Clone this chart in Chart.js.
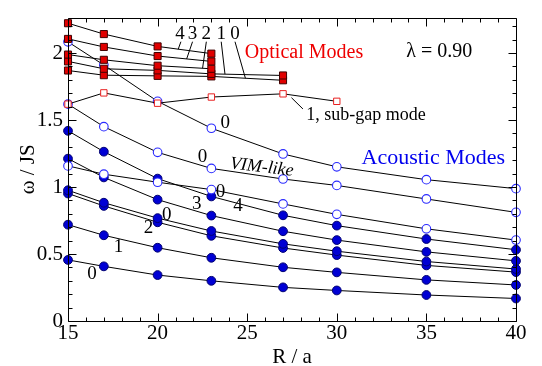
<!DOCTYPE html>
<html>
<head>
<meta charset="utf-8">
<script src="https://cdn.jsdelivr.net/npm/chart.js@4.4.1/dist/chart.umd.min.js"></script>
<style>
    html, body { margin: 0; padding: 0; background: #fff; }
    #wrap { width: 542px; height: 366px; }
</style>
</head>
<body>
<div id="wrap"><canvas id="modesChart"></canvas></div>
<script>
// R / a sample points shared by every curve
const rValues = [15, 17, 20, 23, 27, 30, 35, 40];

// optical modes (filled red squares), numbered 4..0
const optical4 = [2.223, 2.142, 2.050, 1.996];
const optical3 = [2.106, 2.046, 1.978, 1.938];
const optical2 = [1.989, 1.950, 1.906, 1.883];
const optical1 = [1.938, 1.883, 1.871, 1.845, 1.833];
const optical0 = [1.870, 1.835, 1.830, 1.826, 1.797];

// sub-gap mode (open red squares)
const subGap1 = [1.619, 1.703, 1.626, 1.672, 1.696, 1.640];

// acoustic modes, open blue circles
const acousticOpenA = [2.084, 1.911, 1.640, 1.439, 1.247, 1.151, 1.055, 0.988];
const acousticOpenB = [1.619, 1.451, 1.259, 1.139, 1.060, 1.012, 0.911, 0.811];
const acousticOpenC = [1.158, 1.096, 1.036, 0.981, 0.874, 0.796, 0.688, 0.604];

// acoustic modes, filled blue circles
const acousticFilled1 = [1.420, 1.264, 1.063, 0.930, 0.789, 0.712, 0.612, 0.532];
const acousticFilled2 = [1.212, 1.072, 0.906, 0.787, 0.670, 0.604, 0.516, 0.449];
const acousticFilled3 = [0.976, 0.883, 0.768, 0.672, 0.576, 0.521, 0.444, 0.388];
const acousticFilled4 = [0.952, 0.859, 0.737, 0.636, 0.545, 0.492, 0.415, 0.365];
const acousticFilled5 = [0.719, 0.640, 0.547, 0.472, 0.401, 0.363, 0.307, 0.269];
const acousticFilled6 = [0.456, 0.408, 0.343, 0.300, 0.251, 0.228, 0.194, 0.168];

// axis ticks
const xTickValues = [15, 20, 25, 30, 35, 40];
const yTickValues = [0, 0.5, 1, 1.5, 2];

const SERIF = '"Liberation Serif", "DejaVu Serif", serif';

// text labels placed in data coordinates (R, omega)
const curveLabels = [
    { text: '4', r: 21.25, w: 2.142 },
    { text: '3', r: 21.95, w: 2.142 },
    { text: '2', r: 22.72, w: 2.142 },
    { text: '1', r: 23.55, w: 2.142 },
    { text: '0', r: 24.32, w: 2.142 },
    { text: '0', r: 23.77, w: 1.475 },
    { text: '0', r: 22.51, w: 1.223 },
    { text: '0', r: 23.51, w: 0.960 },
    { text: '3', r: 22.18, w: 0.870 },
    { text: '4', r: 24.49, w: 0.856 },
    { text: '0', r: 20.51, w: 0.791 },
    { text: '2', r: 19.49, w: 0.696 },
    { text: '1', r: 17.82, w: 0.552 },
    { text: '0', r: 16.34, w: 0.348 }
];

// leader lines from the labels to their curves: [r1, w1, r2, w2]
const leaderLines = [
    [21.30, 2.085, 21.15, 2.029],
    [21.95, 2.085, 21.62, 1.956],
    [22.72, 2.085, 22.51, 1.887],
    [23.55, 2.085, 23.76, 1.843],
    [24.32, 2.085, 24.90, 1.812],
    [27.47, 1.667, 28.11, 1.583]
];

const toPoints = (values) => values.map((v, i) => ({ x: rValues[i], y: v }));

const makeSeries = (values, style) => Object.assign({
    data: toPoints(values),
    borderColor: '#000',
    borderWidth: 1,
    showLine: true,
    tension: 0,
    clip: false
}, style);

const redFilled = {
    pointStyle: 'rect', pointRadius: 5,
    pointBackgroundColor: '#e00000', pointBorderColor: '#400000', pointBorderWidth: 1
};
const redOpen = {
    pointStyle: 'rect', pointRadius: 4.5,
    pointBackgroundColor: '#fff', pointBorderColor: '#e82020', pointBorderWidth: 1
};
const blueOpen = {
    pointStyle: 'circle', pointRadius: 4.3,
    pointBackgroundColor: '#fff', pointBorderColor: '#2a2aff', pointBorderWidth: 1.1
};
const blueFilled = {
    pointStyle: 'circle', pointRadius: 4.4,
    pointBackgroundColor: '#0000d4', pointBorderColor: '#000070', pointBorderWidth: 1
};

// frame with inward ticks on all four sides
const frameTicks = {
    id: 'frameTicks',
    afterDraw(chart) {
        const { ctx, chartArea: a, scales: { x, y } } = chart;
        const L = Math.round(a.left) + 0.5, R = Math.round(a.right) + 0.5;
        const T = Math.round(a.top) + 0.5, B = Math.round(a.bottom) + 0.5;
        ctx.save();
        ctx.strokeStyle = '#000';
        ctx.lineWidth = 1;
        ctx.beginPath();
        ctx.rect(L, T, R - L, B - T);
        for (let r = 15; r <= 40; r++) {
            const px = Math.round(x.getPixelForValue(r)) + 0.5;
            const len = r % 5 === 0 ? 8 : 4;
            ctx.moveTo(px, B); ctx.lineTo(px, B - len);
            ctx.moveTo(px, T); ctx.lineTo(px, T + len);
        }
        for (let i = 0; i <= 22; i++) {
            const py = Math.round(y.getPixelForValue(i / 10)) + 0.5;
            const len = i % 5 === 0 ? 8 : 4;
            ctx.moveTo(L, py); ctx.lineTo(L + len, py);
            ctx.moveTo(R, py); ctx.lineTo(R - len, py);
        }
        ctx.stroke();
        ctx.restore();
    }
};

// curve labels, leader lines and the text notes
const notes = {
    id: 'notes',
    afterDatasetsDraw(chart) {
        const { ctx, scales: { x, y } } = chart;
        const px = (r) => x.getPixelForValue(r);
        const py = (w) => y.getPixelForValue(w);
        ctx.save();
        ctx.strokeStyle = '#000';
        ctx.lineWidth = 1;
        ctx.beginPath();
        leaderLines.forEach(([r1, w1, r2, w2]) => {
            ctx.moveTo(px(r1), py(w1));
            ctx.lineTo(px(r2), py(w2));
        });
        ctx.stroke();

        ctx.fillStyle = '#000';
        ctx.textAlign = 'center';
        ctx.textBaseline = 'middle';
        ctx.font = '19px ' + SERIF;
        curveLabels.forEach(l => ctx.fillText(l.text, px(l.r), py(l.w)));

        ctx.textAlign = 'left';
        ctx.fillStyle = '#ee0000';
        ctx.font = '20px ' + SERIF;
        ctx.fillText('Optical Modes', px(24.87), py(2.0));

        ctx.fillStyle = '#000';
        ctx.fillText('\u03bb = 0.90', px(33.88), py(2.012));

        ctx.fillStyle = '#0000ee';
        ctx.font = '22px ' + SERIF;
        ctx.fillText('Acoustic Modes', px(31.38), py(1.214));

        ctx.fillStyle = '#000';
        ctx.font = '18px ' + SERIF;
        ctx.fillText('1, sub-gap mode', px(28.3), py(1.535));

        ctx.save();
        ctx.translate(px(24.04), py(1.175));
        ctx.rotate(0.12);
        ctx.font = 'italic 18px ' + SERIF;
        ctx.fillText('VIM-like', 0, 0);
        ctx.restore();

        ctx.restore();
    }
};

function initModesChart() {
    const canvas = document.getElementById('modesChart');

    new Chart(canvas, {
        type: 'line',
        data: {
            datasets: [
                makeSeries(optical4, redFilled),
                makeSeries(optical3, redFilled),
                makeSeries(optical2, redFilled),
                makeSeries(optical1, redFilled),
                makeSeries(optical0, redFilled),
                makeSeries(subGap1, redOpen),
                makeSeries(acousticOpenA, blueOpen),
                makeSeries(acousticOpenB, blueOpen),
                makeSeries(acousticOpenC, blueOpen),
                makeSeries(acousticFilled1, blueFilled),
                makeSeries(acousticFilled2, blueFilled),
                makeSeries(acousticFilled3, blueFilled),
                makeSeries(acousticFilled4, blueFilled),
                makeSeries(acousticFilled5, blueFilled),
                makeSeries(acousticFilled6, blueFilled)
            ]
        },
        options: {
            responsive: true,
            maintainAspectRatio: false,
            animation: false,
            layout: { padding: { top: 6, right: 26, left: 0, bottom: 0 } },
            plugins: {
                legend: { display: false },
                tooltip: { enabled: false }
            },
            scales: {
                x: {
                    type: 'linear',
                    min: 15,
                    max: 40,
                    afterFit: (scale) => { scale.height = 45; },
                    afterBuildTicks: (scale) => { scale.ticks = xTickValues.map(v => ({ value: v })); },
                    grid: { display: false, drawTicks: false },
                    border: { display: false },
                    ticks: {
                        color: '#000',
                        padding: 0,
                        maxRotation: 0,
                        font: { family: SERIF, size: 21 }
                    },
                    title: {
                        display: true,
                        text: 'R / a',
                        color: '#000',
                        font: { family: SERIF, size: 21, lineHeight: 1 },
                        padding: { top: 0, bottom: -2 }
                    }
                },
                y: {
                    type: 'linear',
                    min: 0,
                    max: 2.265,
                    afterFit: (scale) => { scale.width = 68; },
                    afterBuildTicks: (scale) => { scale.ticks = yTickValues.map(v => ({ value: v })); },
                    grid: { display: false, drawTicks: false },
                    border: { display: false },
                    ticks: {
                        color: '#000',
                        padding: 5,
                        font: { family: SERIF, size: 21 },
                        callback: (v) => String(v)
                    },
                    title: {
                        display: true,
                        text: '\u03c9 / JS',
                        color: '#000',
                        font: { family: SERIF, size: 21 },
                        padding: { top: 16, bottom: 0 }
                    }
                }
            }
        },
        plugins: [frameTicks, notes]
    });
}

initModesChart();
</script>
</body>
</html>
